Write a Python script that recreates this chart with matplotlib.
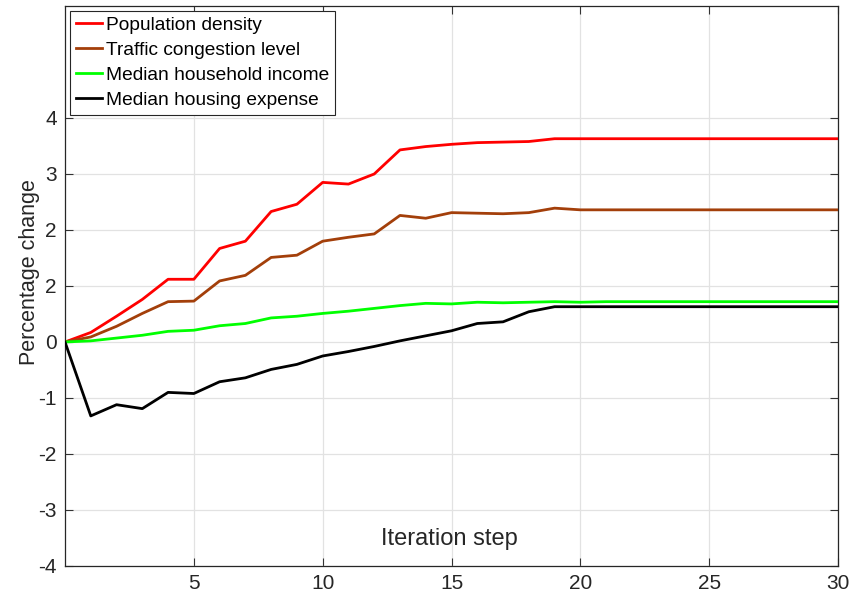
import matplotlib
matplotlib.use("Agg")
import matplotlib.pyplot as plt
import numpy as np

plt.rcParams['font.family'] = ['Liberation Sans', 'DejaVu Sans']

# Iteration steps and percentage change of each indicator
steps = list(range(0, 31))

population_density = [0.00, 0.17, 0.46, 0.76, 1.12, 1.12, 1.67, 1.80, 2.33, 2.46,
                      2.85, 2.82, 3.00, 3.43, 3.49, 3.53, 3.56, 3.57, 3.58, 3.63,
                      3.63, 3.63, 3.63, 3.63, 3.63, 3.63, 3.63, 3.63, 3.63, 3.63, 3.63]
traffic_congestion = [0.00, 0.09, 0.28, 0.51, 0.72, 0.73, 1.09, 1.19, 1.51, 1.55,
                      1.80, 1.87, 1.93, 2.26, 2.21, 2.31, 2.30, 2.29, 2.31, 2.39,
                      2.36, 2.36, 2.36, 2.36, 2.36, 2.36, 2.36, 2.36, 2.36, 2.36, 2.36]
household_income = [0.00, 0.02, 0.07, 0.12, 0.19, 0.21, 0.29, 0.33, 0.43, 0.46,
                    0.51, 0.55, 0.60, 0.65, 0.69, 0.68, 0.71, 0.70, 0.71, 0.72,
                    0.71, 0.72, 0.72, 0.72, 0.72, 0.72, 0.72, 0.72, 0.72, 0.72, 0.72]
housing_expense = [0.00, -1.32, -1.12, -1.19, -0.90, -0.92, -0.71, -0.64, -0.49, -0.40,
                   -0.25, -0.17, -0.08, 0.02, 0.11, 0.20, 0.33, 0.36, 0.54, 0.63,
                   0.63, 0.63, 0.63, 0.63, 0.63, 0.63, 0.63, 0.63, 0.63, 0.63, 0.63]

series_labels = ["Population density", "Traffic congestion level",
                 "Median household income", "Median housing expense"]
series_colors = ["#ff0000", "#a33f0a", "#00ff00", "#000000"]

ytick_values = [-4, -3, -2, -1, 0, 1, 2, 3, 4]
ytick_labels = ['-4', '-3', '-2', '-1', '0', '2', '2', '3', '4']
xtick_values = [5, 10, 15, 20, 25, 30]

fig = plt.figure(figsize=(8.52, 6.0), dpi=100)
ax = fig.add_axes([0.0763, 0.0567, 0.9073, 0.9333])

for vals, lab, col in zip([population_density, traffic_congestion,
                           household_income, housing_expense],
                          series_labels, series_colors):
    ax.plot(steps, vals, color=col, linewidth=2.0, label=lab, zorder=3)

ax.set_xlim(0, 30)
ax.set_ylim(-4, 6)
ax.set_xticks(xtick_values)
ax.set_yticks(ytick_values)
ax.set_yticklabels(ytick_labels)

ax.grid(True, color='#e2e2e2', linewidth=0.9)
ax.set_axisbelow(True)

ax.tick_params(direction='in', length=5.5, width=0.8, color='#333333',
               labelsize=15, labelcolor='#262626', top=True, right=True, pad=6)
for sp in ax.spines.values():
    sp.set_color('#262626')
    sp.set_linewidth(0.9)

ax.set_xlabel("Iteration step", fontsize=17, color='#262626', va='top')
ax.xaxis.set_label_coords(0.497, 0.068)
ax.set_ylabel("Percentage change", fontsize=15.5, color='#262626')
ax.yaxis.set_label_coords(-0.032, 0.525)

leg = ax.legend(loc='upper left', fontsize=13.8, frameon=True, fancybox=False,
                edgecolor='#262626', framealpha=1, handlelength=1.4,
                handletextpad=0.2, borderpad=0.3, labelspacing=0.4,
                borderaxespad=0.25)
leg.get_frame().set_linewidth(0.8)

fig.savefig("out.png", dpi=100)
